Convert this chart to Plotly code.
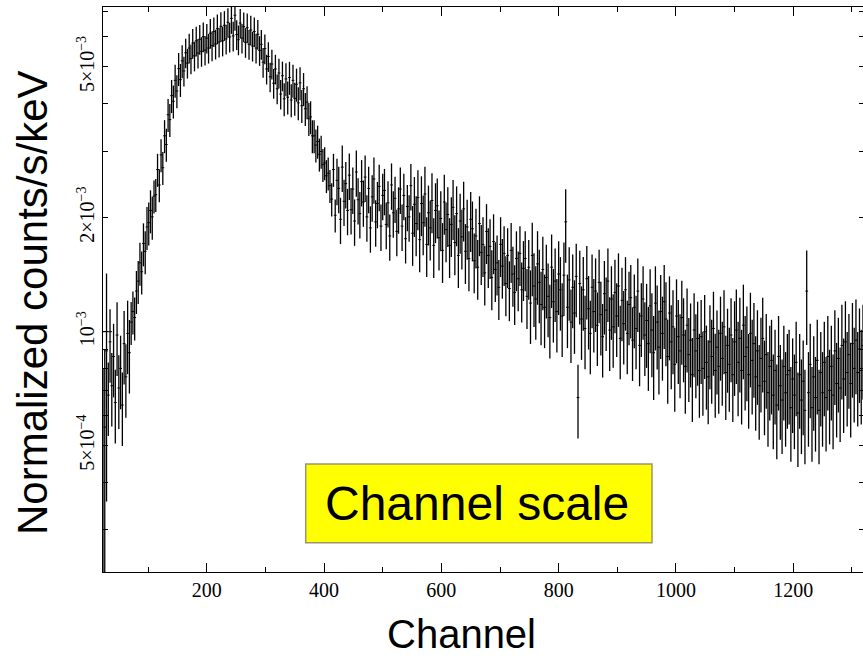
import math
import numpy as np
import plotly.graph_objects as go

# ---------------- data ----------------
ch_first = 23
ch_step = 3
# normalized counts/s/keV in units of 1e-4, one value every 3 channels from ch 23
counts_1e4 = [
    5.0, 5.6, 8.9, 6.8, 9.4, 7.2, 8.6, 6.5, 9.8, 7.1,
    8.0, 6.4, 9.3, 7.6, 9.9, 8.8, 10.6, 11.3, 10.9, 12.8,
    13.6, 15.2, 14.4, 17.1, 16.3, 18.9, 19.4, 20.9, 20.1, 22.8,
    23.0, 26.8, 24.4, 29.3, 27.1, 32.9, 31.2, 37.4, 36.3, 42.0,
    40.6, 46.1, 43.2, 49.5, 46.3, 51.9, 48.8, 54.5, 51.2, 56.1,
    52.6, 57.8, 53.5, 58.6, 54.4, 59.2, 55.0, 60.1, 55.4, 59.6,
    56.1, 61.4, 56.9, 62.0, 57.5, 63.1, 58.2, 64.0, 58.6, 64.4,
    59.3, 65.6, 60.0, 67.2, 60.4, 68.5, 60.9, 59.0, 65.3, 59.6,
    63.9, 58.1, 63.5, 57.4, 62.6, 56.8, 62.0, 56.1, 61.0, 55.3,
    57.4, 51.5, 55.9, 49.4, 53.3, 47.1, 50.9, 45.3, 49.4, 43.8,
    48.2, 42.4, 47.4, 41.2, 46.5, 41.6, 46.9, 40.9, 46.1, 41.3,
    45.0, 40.2, 45.4, 39.5, 43.8, 38.8, 40.4, 36.5, 36.9, 32.9,
    32.9, 31.1, 31.8, 29.4, 29.9, 27.6, 27.9, 25.8, 26.2, 24.3,
    22.4, 26.8, 20.3, 25.1, 23.9, 19.8, 27.2, 22.1, 24.6, 20.9,
    25.9, 21.0, 23.8, 19.6, 26.4, 22.3, 20.5, 24.9, 22.0, 25.6,
    20.1, 23.9, 18.8, 22.7, 25.3, 19.5, 21.8, 24.2, 19.0, 22.9,
    23.6, 19.2, 21.9, 17.9, 24.4, 20.6, 22.5, 18.4, 21.1, 23.8,
    19.0, 22.9, 17.6, 21.4, 20.1, 24.3, 18.2, 21.7, 19.3, 22.6,
    17.5, 21.8, 19.4, 23.1, 17.0, 20.6, 18.8, 22.2, 16.9, 20.9,
    21.5, 17.7, 19.9, 16.4, 22.0, 18.6, 20.4, 16.9, 19.2, 21.3,
    17.2, 20.5, 15.9, 19.6, 17.8, 21.1, 16.3, 18.9, 15.6, 19.8,
    18.7, 15.4, 17.9, 14.8, 19.3, 16.2, 17.0, 14.3, 18.4, 15.9,
    16.8, 13.9, 17.3, 14.6, 15.2, 13.1, 17.0, 14.9, 16.1, 13.4,
    15.9, 13.0, 16.4, 14.2, 12.7, 15.6, 13.8, 16.1, 12.9, 14.7,
    15.6, 12.4, 14.8, 11.9, 15.9, 13.2, 12.2, 15.1, 13.5, 11.8,
    14.6, 11.6, 13.9, 12.4, 10.9, 14.8, 12.0, 13.6, 11.3, 14.2,
    12.9, 11.0, 14.1, 19.5, 11.6, 13.7, 10.6, 13.1, 11.2, 14.0,
    6.7, 13.4, 10.8, 12.9, 10.2, 13.8, 11.5, 9.9, 13.1, 11.3,
    12.8, 10.4, 13.5, 11.1, 9.7, 12.6, 11.4, 13.6, 10.1, 12.2,
    10.3, 12.7, 11.0, 13.2, 9.6, 12.1, 10.5, 12.9, 9.9, 11.8,
    12.3, 9.5, 11.6, 10.2, 12.8, 9.2, 11.0, 12.2, 9.8, 10.7,
    9.3, 11.7, 10.1, 8.8, 11.9, 10.6, 9.1, 11.3, 9.9, 12.0,
    10.8, 8.6, 11.2, 9.4, 10.3, 8.2, 11.0, 9.7, 8.9, 10.9,
    9.8, 8.1, 10.4, 8.7, 9.5, 7.7, 10.1, 8.9, 9.6, 7.9,
    9.7, 8.0, 10.0, 8.3, 7.6, 9.4, 8.6, 10.2, 7.9, 9.1,
    8.1, 9.9, 8.5, 10.3, 7.8, 9.2, 8.2, 9.8, 7.7, 9.4,
    10.1, 8.3, 9.6, 7.9, 10.4, 8.6, 9.1, 7.7, 9.9, 8.4,
    9.3, 7.6, 8.9, 7.2, 8.5, 9.6, 7.4, 8.7, 6.9, 8.1,
    8.4, 6.8, 7.9, 6.4, 8.6, 7.2, 6.6, 8.1, 6.9, 7.7,
    7.9, 6.3, 7.5, 6.8, 8.3, 6.1, 7.7, 6.6, 7.4, 6.2,
    12.8, 6.9, 8.2, 6.3, 7.6, 6.7, 8.4, 6.2, 7.8, 6.9,
    8.3, 6.7, 8.6, 7.0, 8.1, 6.8, 8.9, 7.3, 8.5, 7.1,
    9.2, 7.5, 9.4, 7.8, 8.7, 7.3, 9.3, 8.0, 9.5, 7.8,
    9.0, 7.9, 9.2,
]
# fractional 1-sigma error by channel region (region upper edges)
err_edges = [30, 70, 110, 160, 330, 420, 550, 750, 950, 1100]
err_frac = [0.60, 0.22, 0.13, 0.10, 0.09, 0.10, 0.14, 0.18, 0.22, 0.25, 0.28]

x_tick_major = [200, 400, 600, 800, 1000, 1200]
y_tick_vals = [3e-4, 4e-4, 5e-4, 6e-4, 7e-4, 8e-4, 9e-4, 1e-3,
               2e-3, 3e-3, 4e-3, 5e-3, 6e-3, 7e-3]
y_tick_text = [" ", " ", "5×10<sup>−4</sup>", " ", " ", " ", " ", "10<sup>−3</sup>",
               "2×10<sup>−3</sup>", " ", " ", "5×10<sup>−3</sup>", " ", " "]

# ---------------- build ----------------
channels = [ch_first + ch_step * i for i in range(len(counts_1e4))]
values = [c * 1e-4 for c in counts_1e4]
idx = np.searchsorted(err_edges, channels, side="right")
errors = [v * err_frac[i] for v, i in zip(values, idx)]

x_range = [23, 1319]
y_lo, y_hi = math.log10(2.32e-4), math.log10(7.2e-3)

W, H = 863, 660
ml, mr, mt, mb = 103, 0, 7, 88
pw, ph = W - ml - mr, H - mt - mb

serif = "Liberation Serif, Times New Roman, serif"
sans = "Liberation Sans, Arial, Helvetica, sans-serif"

fig = go.Figure()
fig.add_trace(go.Scatter(
    x=channels, y=values, mode="markers",
    marker=dict(symbol="line-ew", size=2, color="black",
                line=dict(width=1, color="black")),
    error_y=dict(type="data", array=errors, symmetric=True,
                 color="black", thickness=1.3, width=0),
    showlegend=False, hoverinfo="skip",
))
# invisible trace to anchor the right-hand tick axis
fig.add_trace(go.Scatter(
    x=[channels[0]], y=[values[0]], yaxis="y2", mode="markers",
    marker=dict(opacity=0), showlegend=False, hoverinfo="skip",
))

frac_1e3 = (math.log10(1e-3) - y_lo) / (y_hi - y_lo)

fig.update_layout(
    width=W, height=H,
    margin=dict(l=ml, r=mr, t=mt, b=mb, pad=0, autoexpand=False),
    paper_bgcolor="white", plot_bgcolor="white",
    showlegend=False, hovermode=False,
    xaxis=dict(
        range=x_range, showgrid=False, zeroline=False, automargin=False,
        showline=True, linecolor="black", linewidth=1, mirror="ticks",
        ticks="inside", ticklen=9, tickwidth=1, tickcolor="black",
        tickmode="array", tickvals=x_tick_major,
        ticktext=[str(v) for v in x_tick_major],
        minor=dict(ticks="inside", ticklen=5, tickwidth=1, tickcolor="black",
                   tickmode="linear", tick0=100, dtick=200),
        tickfont=dict(family=serif, size=20, color="black"),
    ),
    yaxis=dict(
        type="log", range=[y_lo, y_hi], showgrid=False, zeroline=False,
        automargin=False,
        showline=True, linecolor="black", linewidth=1, mirror=False,
        ticks="inside", ticklen=5, tickwidth=1, tickcolor="black",
        tickmode="array", tickvals=y_tick_vals, ticktext=y_tick_text,
        tickangle=-90,
        tickfont=dict(family=serif, size=20, color="black"),
    ),
    yaxis2=dict(
        type="log", range=[y_lo, y_hi], overlaying="y", side="right",
        anchor="x", showgrid=False, zeroline=False, showline=False,
        automargin=False,
        ticks="inside", ticklen=4, tickwidth=1, tickcolor="black",
        tickmode="array", tickvals=y_tick_vals, showticklabels=False,
    ),
    shapes=[
        dict(type="line", xref="paper", yref="paper",
             x0=0, x1=9 / pw, y0=frac_1e3, y1=frac_1e3,
             line=dict(color="black", width=1)),
        dict(type="rect", xref="paper", yref="paper",
             x0=(305.7 - ml) / pw, x1=(652 - ml) / pw,
             y0=(H - mb - 542.7) / ph, y1=(H - mb - 464) / ph,
             fillcolor="#FFFF00", line=dict(color="#9A9670", width=1.5),
             layer="above"),
    ],
    annotations=[
        dict(text="Channel scale", xref="paper", yref="paper",
             x=(477 - ml) / pw, y=(H - mb - 503) / ph,
             xanchor="center", yanchor="middle", showarrow=False,
             font=dict(family=sans, size=48, color="black")),
        dict(text="Channel", xref="paper", yref="paper",
             x=(461 - ml) / pw, y=(H - mb - 634) / ph,
             xanchor="center", yanchor="middle", showarrow=False,
             font=dict(family=sans, size=40, color="black")),
        dict(text="Normalized counts/s/keV", xref="paper", yref="paper",
             x=(32 - ml) / pw, y=(H - mb - 303) / ph, textangle=-90,
             xanchor="center", yanchor="middle", showarrow=False,
             font=dict(family=sans, size=42, color="black")),
    ],
)

fig.write_html(
    "out.html",
    config={"displayModeBar": False, "staticPlot": True},
    post_script="document.body.style.margin='0px';document.body.style.overflow='hidden';",
)
